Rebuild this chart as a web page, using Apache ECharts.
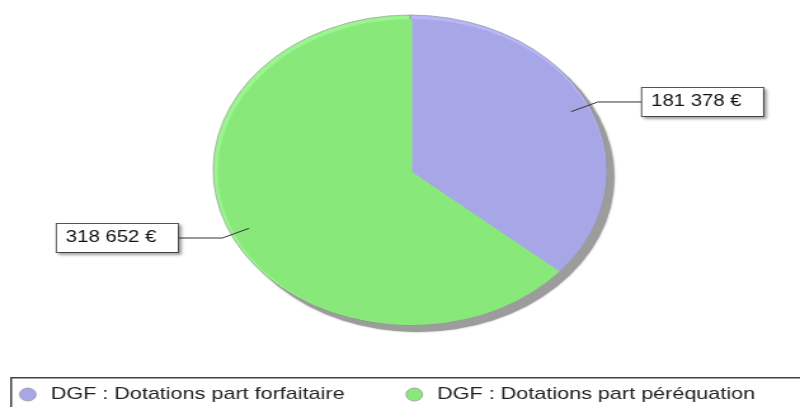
<!DOCTYPE html>
<html>
<head>
<meta charset="utf-8">
<script src="https://cdn.jsdelivr.net/npm/echarts@6/dist/echarts.min.js"></script>
<style>
  html, body { margin: 0; padding: 0; overflow: hidden; background: #fff; }
  /* the original picture is a stretched render, so draw narrow and stretch */
  #chart { width: 630px; height: 407px; transform: scaleX(1.2698); transform-origin: 0 0; }
</style>
</head>
<body>
<div id="chart"></div>
<script>
var names = ['DGF : Dotations part forfaitaire', 'DGF : Dotations part péréquation'];
var amounts = [181378, 318652];
var colors = ['#a7a7e8', '#88e87a'];
var rimColors = ['#b6b6f8', '#9af58e'];

var cx = 322.9, cy = 170, r = 155;

function fmt(v) {
  return String(v).replace(/\B(?=(\d{3})+(?!\d))/g, ' ') + ' €';
}

var pieData = names.map(function (n, i) {
  return { name: n, value: amounts[i] };
});
var total = amounts.reduce(function (a, b) { return a + b; }, 0);

var chart = echarts.init(document.getElementById('chart'));
var option = {
  animation: false,
  // legend frame, runs off the right and bottom edges like the original
  graphic: [{
    type: 'rect',
    left: 8,
    top: 377,
    shape: { width: 700, height: 60 },
    style: { fill: '#fff', stroke: '#444', lineWidth: 1.5 },
    z: 0,
    silent: true
  }],
  legend: {
    data: names,
    left: 8,
    top: 377,
    orient: 'horizontal',
    padding: [9, 5, 20, 7],
    itemGap: 48,
    itemWidth: 14,
    itemHeight: 13,
    icon: 'circle',
    selectedMode: false,
    z: 5,
    itemStyle: { borderColor: '#999', borderWidth: 0.8 },
    textStyle: { fontFamily: 'Liberation Sans', fontSize: 17, color: '#222', padding: [0, 0, 0, 6] }
  },
  series: [
    {
      name: 'main',
      type: 'pie',
      z: 3,
      silent: true,
      center: [cx + 1.5, cy + 2],
      radius: [0, r - 2],
      startAngle: 90,
      clockwise: true,
      avoidLabelOverlap: false,
      label: { show: false },
      labelLine: { show: false },
      itemStyle: {
        color: function (p) { return colors[p.dataIndex]; },
        borderWidth: 0
      },
      data: pieData
    },
    {
      name: 'shadow',
      type: 'pie',
      z: 1,
      silent: true,
      center: [cx + 6, cy + 7],
      radius: [0, r],
      label: { show: false },
      labelLine: { show: false },
      itemStyle: { color: '#9c9c9c', borderWidth: 0, shadowBlur: 2, shadowColor: '#9c9c9c' },
      data: [{ name: 'ombre', value: total }]
    },
    {
      name: 'rim',
      type: 'pie',
      z: 2,
      silent: true,
      center: [cx, cy],
      radius: [0, r],
      startAngle: 90,
      clockwise: true,
      label: { show: false },
      labelLine: { show: false },
      itemStyle: {
        color: function (p) { return rimColors[p.dataIndex]; },
        borderColor: '#8a8a8a',
        borderWidth: 0.6
      },
      data: pieData
    },
    {
      name: 'labels',
      type: 'pie',
      z: 4,
      silent: true,
      center: [cx, cy],
      radius: [0, r * 0.9],
      startAngle: 90,
      clockwise: true,
      avoidLabelOverlap: false,
      itemStyle: { color: 'rgba(0,0,0,0)', borderWidth: 0 },
      label: {
        show: true,
        position: 'outside',
        alignTo: 'none',
        distanceToLabelLine: 0,
        formatter: function (p) { return fmt(p.value); },
        fontFamily: 'Liberation Sans',
        fontSize: 16,
        color: '#111',
        backgroundColor: '#fff',
        borderColor: '#555',
        borderWidth: 1,
        padding: [6, 17, 6, 7],
        shadowColor: 'rgba(0,0,0,0.35)',
        shadowBlur: 3,
        shadowOffsetX: 2,
        shadowOffsetY: 2
      },
      labelLine: {
        show: true,
        length: r * 0.15,
        length2: 35,
        smooth: false,
        lineStyle: { color: '#333', width: 1 }
      },
      data: pieData
    }
  ]
};
option && chart.setOption(option);
</script>
</body>
</html>
